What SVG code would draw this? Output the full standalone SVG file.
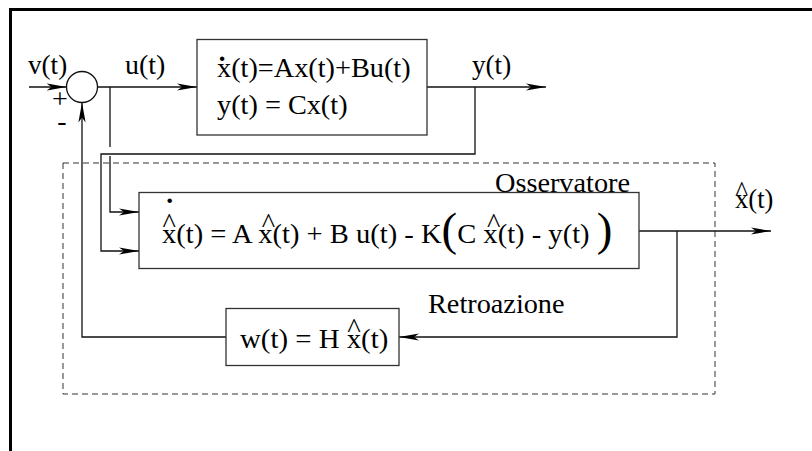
<svg xmlns="http://www.w3.org/2000/svg" width="812" height="451" viewBox="0 0 812 451" font-family="'Liberation Serif', 'Times New Roman', serif">
<style>
text{font-family:'Liberation Serif','Times New Roman',serif;font-size:28px;fill:#000}
.box{fill:none;stroke:#333;stroke-width:1.3}
.ln{fill:none;stroke:#111;stroke-width:1.3}
.arr{marker-end:url(#ah)}
.dash{fill:none;stroke:#333;stroke-width:1;stroke-dasharray:6 4}
.hat{text-anchor:middle;font-size:28px}
.dot{text-anchor:middle;font-size:42px}
</style>
<defs>
<marker id="ah" markerUnits="userSpaceOnUse" viewBox="0 0 20 8" markerWidth="20" markerHeight="8" refX="20" refY="4" orient="auto">
<path d="M0,0.4 L20,4 L0,7.6 L5,4 Z" fill="#000"/>
</marker>
</defs>
<rect width="812" height="451" fill="#fff"/>
<path d="M10.5,451 V9.5 H812" fill="none" stroke="#000" stroke-width="3"/>
<rect id="observer-region" class="dash" x="63" y="163" width="652" height="231"/>
<g id="connectors">
<line class="ln arr" x1="29" y1="87" x2="66.5" y2="87"/>
<line class="ln arr" x1="97.5" y1="87" x2="197" y2="87"/>
<line class="ln arr" x1="427" y1="87" x2="546" y2="87"/>
<path class="ln arr" d="M475,87 V154 H101 V251 H139"/>
<path class="ln" d="M110,87 V147"/>
<path class="ln arr" d="M110,156 V212 H139"/>
<line class="ln arr" x1="639" y1="231" x2="771" y2="231"/>
<path class="ln arr" d="M677,231 V337 H399"/>
<path class="ln arr" d="M226,337 H82 V102.5"/>
</g>
<g id="sum">
<circle cx="82" cy="87" r="15.5" fill="none" stroke="#111" stroke-width="1.3"/>
<text x="60" y="108" text-anchor="middle">+</text>
<text x="62" y="130" text-anchor="middle">-</text>
</g>
<g id="label-v" transform="translate(28 74) scale(0.97 1)"><text>v(t)</text></g>
<g id="label-u" transform="translate(125 74)"><text>u(t)</text></g>
<g id="label-y" transform="translate(472 74) scale(0.97 1)"><text>y(t)</text></g>
<g id="plant">
<rect class="box" x="197" y="39.5" width="230" height="95.5"/>
<g transform="translate(217 77) scale(1.01 1)"><text>x(t)=Ax(t)+Bu(t)</text><text class="dot" x="5" y="8">˙</text></g>
<g transform="translate(217 114) scale(1.01 1)"><text>y(t) = Cx(t)</text></g>
</g>
<g id="observer">
<rect class="box" x="139" y="192.5" width="500" height="76"/>
<g transform="translate(162 243) scale(1.02 1)">
<text>x(t) = A x(t) + B u(t) - K<tspan font-size="46" dy="2">(</tspan><tspan dy="-2">C x(t) - y(t) </tspan><tspan font-size="46" dy="2">)</tspan></text>
<text class="hat" x="7" y="-11">^</text>
<text class="dot" x="7.5" y="-16">˙</text>
<text class="hat" x="104.4" y="-11">^</text>
<text class="hat" x="325.3" y="-11">^</text>
</g>
</g>
<g id="label-osservatore" transform="translate(495 192) scale(1.01 1)"><text>Osservatore</text></g>
<g id="label-xhat" transform="translate(735 208) scale(0.95 1)"><text>x(t)</text><text class="hat" x="7" y="-8">^</text></g>
<g id="label-retroazione" transform="translate(428 313) scale(1.01 1)"><text>Retroazione</text></g>
<g id="feedback">
<rect class="box" x="226" y="308.5" width="173" height="57"/>
<g transform="translate(240 348) scale(1.03 1)"><text>w(t) = H x(t)</text><text class="hat" x="110.7" y="-11">^</text></g>
</g>
</svg>
